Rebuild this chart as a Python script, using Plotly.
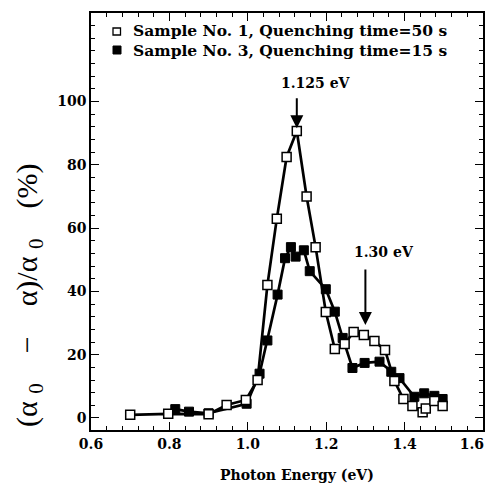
import plotly.graph_objects as go

# Sample No. 1 (open squares)
s1_x = [0.70, 0.797, 0.90, 0.946, 0.995, 1.025, 1.05, 1.074, 1.099, 1.125, 1.150, 1.173, 1.199,
        1.222, 1.247, 1.270, 1.296, 1.323, 1.350, 1.374, 1.397, 1.420, 1.446, 1.454, 1.476, 1.497]
s1_y = [1.0, 1.3, 1.2, 4.1, 5.7, 12.0, 42.0, 63.0, 82.5, 90.7, 70.0, 54.0, 33.5,
        21.8, 23.4, 27.2, 26.2, 24.3, 21.5, 11.7, 6.0, 3.8, 1.8, 3.0, 5.4, 3.8]

# Sample No. 3 (filled squares)
s3_x = [0.815, 0.85, 0.90, 0.997, 1.03, 1.05, 1.076, 1.095, 1.11, 1.122, 1.143, 1.158, 1.199,
        1.222, 1.242, 1.267, 1.298, 1.336, 1.366, 1.387, 1.425, 1.450, 1.476, 1.497]
s3_y = [2.8, 2.0, 1.5, 4.5, 14.0, 24.5, 39.0, 50.5, 54.0, 51.0, 53.0, 46.4, 40.7,
        33.6, 25.3, 15.8, 17.4, 17.8, 14.6, 12.6, 6.7, 7.8, 7.0, 6.0]

legend_labels = ["Sample No. 1, Quenching time=50 s", "Sample No. 3, Quenching time=15 s"]
x_ticks = [0.6, 0.8, 1.0, 1.2, 1.4, 1.6]
x_tick_text = ["0.6", "0.8", "1.0", "1.2", "1.4", "1.6"]
y_ticks = [0, 20, 40, 60, 80, 100]

bold_serif = "DejaVu Serif, serif"
serif = "Liberation Serif, Times New Roman, serif"

OFF = 8  # page body margin
W, H = 494 - 2 * OFF, 487 - OFF
L, T = 83, 5
R = W - (483 - OFF)
B = H - (430 - OFF)
PW, PH = W - L - R, H - T - B


def px(xs):
    return (xs - OFF - L) / PW


def py(ys):
    return (H - B - (ys - OFF)) / PH


fig = go.Figure()
fig.add_trace(go.Scatter(x=s3_x, y=s3_y, mode="lines+markers", name=legend_labels[1],
                         line=dict(color="black", width=2.7),
                         marker=dict(symbol="square", size=9, color="black",
                                     line=dict(color="black", width=1)),
                         showlegend=False))
fig.add_trace(go.Scatter(x=s1_x, y=s1_y, mode="lines+markers", name=legend_labels[0],
                         line=dict(color="black", width=2.7),
                         marker=dict(symbol="square", size=9, color="white",
                                     line=dict(color="black", width=1.5)),
                         showlegend=False))

# legend (text + marker keys)
fig.add_annotation(x=px(131), y=py(40), xref="paper", yref="paper", xanchor="left", yanchor="middle",
                   align="left",
                   text="<b>%s</b><br><b>%s</b>" % (legend_labels[0], legend_labels[1]),
                   showarrow=False, font=dict(family=bold_serif, size=15.5, color="black"))
fig.add_shape(type="rect", xref="paper", yref="paper", x0=px(113), x1=px(120.5), y0=py(35), y1=py(28),
              line=dict(color="black", width=1.3), fillcolor="white")
fig.add_shape(type="rect", xref="paper", yref="paper", x0=px(113), x1=px(121), y0=py(54), y1=py(46),
              line=dict(color="black", width=1), fillcolor="black")

# arrows and labels
fig.add_annotation(x=1.125, y=91.6, ax=1.125, ay=101.5, xref="x", yref="y", axref="x", ayref="y",
                   showarrow=True, arrowhead=2, arrowsize=1.3, arrowwidth=2, arrowcolor="black", text="")
fig.add_annotation(x=1.173, y=106, text="<b>1.125 eV</b>", showarrow=False,
                   font=dict(family=bold_serif, size=14, color="black"))
fig.add_annotation(x=1.30, y=29.4, ax=1.30, ay=47.4, xref="x", yref="y", axref="x", ayref="y",
                   showarrow=True, arrowhead=2, arrowsize=1.3, arrowwidth=2, arrowcolor="black", text="")
fig.add_annotation(x=1.347, y=52.4, text="<b>1.30 eV</b>", showarrow=False,
                   font=dict(family=bold_serif, size=14, color="black"))

# axis titles
fig.add_annotation(x=px(297), y=py(475), xref="paper", yref="paper", xanchor="center", yanchor="middle",
                   showarrow=False,
                   text="<b>Photon Energy (eV)</b>", font=dict(family=bold_serif, size=14, color="black"))
fig.add_annotation(x=px(29), y=py(296), xref="paper", yref="paper", xanchor="center", yanchor="middle",
                   showarrow=False, textangle=-90,
                   text="(α <sub>0</sub>    −    α)/α <sub>0</sub>    (%)",
                   font=dict(family=serif, size=30, color="black"))

axis_common = dict(showline=True, linecolor="black", linewidth=1.5, mirror="ticks",
                   ticks="inside", ticklen=8, tickwidth=1.3, tickcolor="black",
                   showgrid=False, zeroline=False, automargin=False, ticklabeloverflow="allow",
                   tickfont=dict(family=bold_serif, size=14, color="black"))

x_labels = ["<b>%s</b>" % t for t in x_tick_text]
x_labels[-1] = x_labels[-1] + "\u00a0" * 5  # keep last label inside the window

fig.update_xaxes(range=[0.6, 1.6], tickvals=x_ticks, ticktext=x_labels,
                 minor=dict(dtick=0.04, tick0=0.6, ticks="inside", ticklen=4, tickwidth=1, tickcolor="black"),
                 **axis_common)
fig.update_yaxes(range=[-3.8, 128], tickvals=y_ticks, ticktext=["<b>%d</b>" % t for t in y_ticks],
                 minor=dict(dtick=4, tick0=0, ticks="inside", ticklen=4, tickwidth=1, tickcolor="black"),
                 **axis_common)

fig.update_layout(width=W, height=H, margin=dict(l=L, r=R, t=T, b=B),
                  plot_bgcolor="white", paper_bgcolor="white", showlegend=False)
fig.write_html("out.html")
